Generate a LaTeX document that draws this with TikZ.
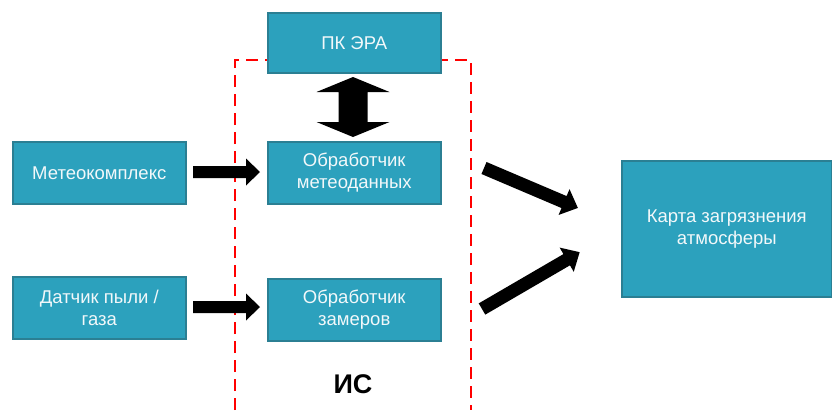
\documentclass[tikz,border=0pt]{standalone}
\usepackage{fontspec}
\setmainfont{Liberation Sans}
\definecolor{boxfill}{HTML}{2CA1BD}
\definecolor{boxline}{HTML}{2B7F93}
\definecolor{boxtext}{HTML}{F2F8FA}
\begin{document}
\begin{tikzpicture}[x=1pt,y=-1pt,
  blk/.style={draw=boxline,line width=1.5pt,fill=boxfill,text=boxtext,
    font=\fontsize{18.5}{22}\selectfont,align=center,inner sep=0pt,anchor=north west},
  fat/.style={fill=black}]
\useasboundingbox (0,0) rectangle (832,410);
% dashed IS frame
\draw[red,line width=1.6pt,dash pattern=on 12pt off 7pt] (235,410) -- (235,60) -- (471,60) -- (471,410);
% boxes
\node[blk,minimum width=173pt,minimum height=60pt] (pk) at (267,12) {ПК ЭРА};
\node[blk,minimum width=173pt,minimum height=62pt] (meteo) at (12,141) {Метеокомплекс};
\node[blk,minimum width=173pt,minimum height=62pt] (obm) at (267,141) {Обработчик\\метеоданных};
\node[blk,minimum width=173pt,minimum height=62pt] (dat) at (12,276) {Датчик пыли /\\газа};
\node[blk,minimum width=173pt,minimum height=62pt] (obz) at (267,278) {Обработчик\\замеров};
\node[blk,minimum width=210pt,minimum height=136pt] (map) at (621,160) {Карта загрязнения\\атмосферы};
\node[font=\bfseries\fontsize{27}{30}\selectfont] (is) at (353,384) {ИС};
% double arrow pk <-> obm
\coordinate (dtop) at (353,77);
\coordinate (dbot) at (353,137);
\fill[fat] (dtop) -- ++(36.5,15) -- ++(-22,0) -- ++(0,30) -- ++(22,0) -- (dbot)
  -- ++(-36.5,-15) -- ++(22,0) -- ++(0,-30) -- ++(-22,0) -- cycle;
% horizontal arrows
\coordinate (a1s) at (193,172);
\coordinate (a1e) at (260,172);
\fill[fat] (a1s) ++(0,-6) -- ++(53,0) -- ++(0,-7.5) -- (a1e) -- ++(-14,13.5) -- ++(0,-7.5) -- ++(-53,0) -- cycle;
\coordinate (a2s) at (193,307);
\coordinate (a2e) at (260,307);
\fill[fat] (a2s) ++(0,-6) -- ++(53,0) -- ++(0,-7.5) -- (a2e) -- ++(-14,13.5) -- ++(0,-7.5) -- ++(-53,0) -- cycle;
% diagonal arrows
\coordinate (d1s) at (484,168);
\coordinate (d1e) at (578,208);
\begin{scope}[shift={(d1s)},rotate=-23.05]
\fill[fat] (0,-6.5) -- (87,-6.5) -- (87,-14) -- (102,0) -- (87,14) -- (87,6.5) -- (0,6.5) -- cycle;
\end{scope}
\coordinate (d2s) at (482,309);
\coordinate (d2e) at (580,252);
\begin{scope}[shift={(d2s)},rotate=30.2]
\fill[fat] (0,-6.5) -- (98,-6.5) -- (98,-14) -- (113,0) -- (98,14) -- (98,6.5) -- (0,6.5) -- cycle;
\end{scope}
\end{tikzpicture}
\end{document}
